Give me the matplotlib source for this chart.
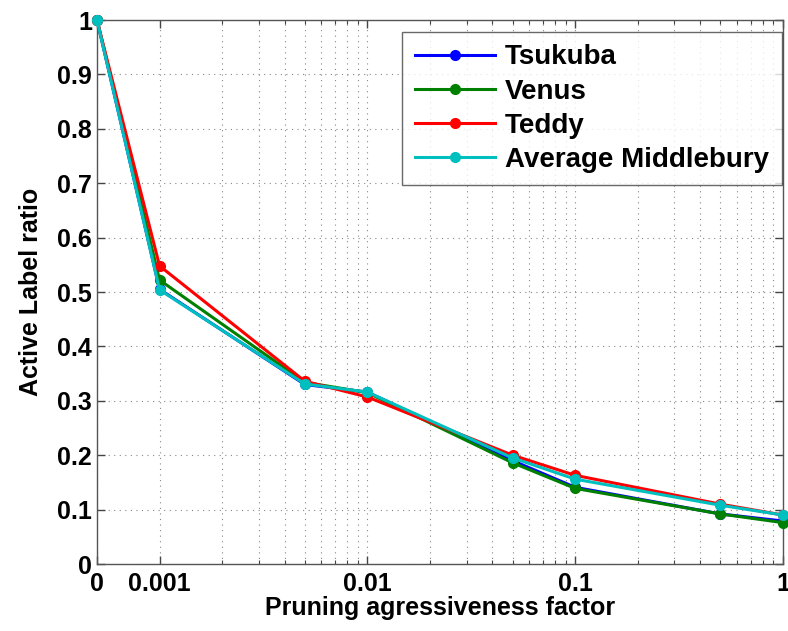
import matplotlib
matplotlib.use("Agg")
import matplotlib.pyplot as plt

x_values = [0.0005, 0.001, 0.005, 0.01, 0.05, 0.1, 0.5, 1.0]
tsukuba = [1.0, 0.505, 0.330, 0.316, 0.190, 0.141, 0.092, 0.079]
venus = [1.0, 0.522, 0.334, 0.315, 0.186, 0.139, 0.092, 0.076]
teddy = [1.0, 0.548, 0.336, 0.307, 0.200, 0.163, 0.110, 0.090]
avg_middlebury = [1.0, 0.504, 0.331, 0.316, 0.195, 0.156, 0.108, 0.090]

series_names = ["Tsukuba", "Venus", "Teddy", "Average Middlebury"]
series_colors = ["#0000ff", "#008000", "#ff0000", "#00bfbf"]
x_tick_values = [0.0005, 0.001, 0.01, 0.1, 1.0]
x_tick_labels = ["0", "0.001", "0.01", "0.1", "1"]
x_minor_ticks = [m * 10.0 ** e for e in (-3, -2, -1) for m in range(2, 10)]
y_tick_values = [0, 0.1, 0.2, 0.3, 0.4, 0.5, 0.6, 0.7, 0.8, 0.9, 1.0]
y_tick_labels = ["0", "0.1", "0.2", "0.3", "0.4", "0.5", "0.6", "0.7", "0.8", "0.9", "1"]

plt.rcParams['font.family'] = ['Liberation Sans', 'DejaVu Sans']
plt.rcParams['font.weight'] = 'bold'

fig = plt.figure(figsize=(7.88, 6.31), dpi=100)
ax = fig.add_axes([97/788, 1 - 564/631, (783-97)/788, (564-20)/631])

for name, ys, c in zip(series_names, [tsukuba, venus, teddy, avg_middlebury], series_colors):
    ax.plot(x_values, ys, color=c, lw=2.2, marker='o', markersize=7, label=name, clip_on=False, zorder=3)

ax.set_xscale('log')
ax.set_xlim(0.0005, 1.0)
ax.set_ylim(0, 1)
ax.set_xticks(x_tick_values)
ax.set_xticklabels(x_tick_labels)
ax.set_xticks(x_minor_ticks, minor=True)
ax.set_xticklabels([], minor=True)
ax.set_yticks(y_tick_values)
ax.set_yticklabels(y_tick_labels)

ax.grid(True, which='major', linestyle=(0, (1, 4)), color='#888888', lw=0.8)
ax.grid(True, which='minor', axis='x', linestyle=(0, (1, 4)), color='#888888', lw=0.8)
ax.tick_params(axis='both', which='both', direction='in', top=True, right=True, labelsize=18, colors='#444444', labelcolor='black')
ax.tick_params(axis='both', which='major', length=6, width=1)
ax.tick_params(axis='x', which='minor', length=3, width=0.8)
ax.tick_params(axis='x', which='major', pad=6)
for lab in ax.get_xticklabels() + ax.get_yticklabels():
    lab.set_fontweight('bold')
for s in ax.spines.values():
    s.set_color('#555555')
    s.set_linewidth(1.0)

ax.set_xlabel("Pruning agressiveness factor", fontsize=18, fontweight='bold', labelpad=0)
ax.set_ylabel("Active Label ratio", fontsize=18, fontweight='bold', labelpad=10)

leg = ax.legend(loc='upper left', bbox_to_anchor=(402/788, 1 - 32/631), bbox_transform=fig.transFigure,
                prop={'weight': 'bold', 'size': 20}, frameon=True, fancybox=False,
                handlelength=2.9, handletextpad=0.36, labelspacing=0.29, borderpad=0.45, borderaxespad=0)
leg.get_frame().set_edgecolor('#444444')
leg.get_frame().set_linewidth(1.0)

fig.savefig("out.png", dpi=100)
